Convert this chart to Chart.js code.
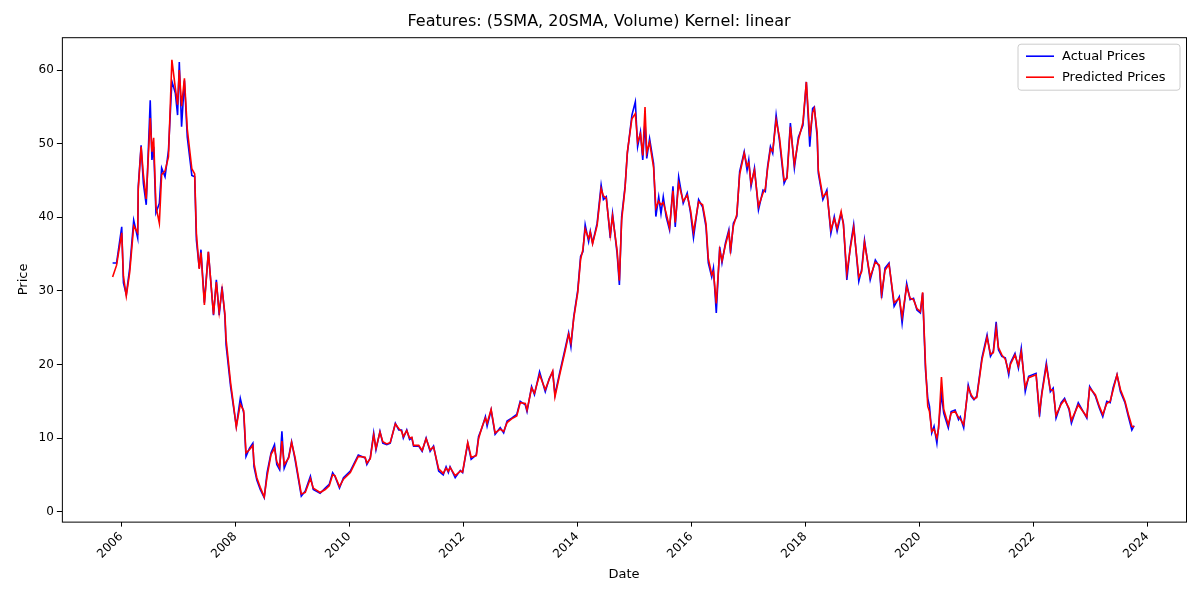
<!DOCTYPE html>
<html>
<head>
<meta charset="utf-8">
<script src="https://cdn.jsdelivr.net/npm/chart.js@4"></script>
<style>
  html, body { margin: 0; padding: 0; background: #fff; }
  #wrap { width: 1200px; height: 600px; }
</style>
</head>
<body>
<div id="wrap"><canvas id="chart1"></canvas></div>
<script>
// dates as decimal years
var DATES = [2005.85,2005.92,2006.01,2006.04,2006.09,2006.15,2006.22,2006.29,2006.30,2006.35,2006.39,2006.44,2006.51,2006.54,2006.57,2006.61,2006.67,2006.71,2006.77,2006.83,2006.89,2006.95,2006.99,2007.02,2007.06,2007.11,2007.16,2007.24,2007.29,2007.32,2007.37,2007.40,2007.46,2007.53,2007.62,2007.67,2007.72,2007.77,2007.82,2007.84,2007.92,2007.96,2008.02,2008.09,2008.15,2008.19,2008.25,2008.31,2008.33,2008.38,2008.44,2008.51,2008.56,2008.63,2008.69,2008.73,2008.78,2008.82,2008.86,2008.94,2008.99,2009.05,2009.16,2009.23,2009.32,2009.37,2009.49,2009.58,2009.65,2009.71,2009.75,2009.83,2009.90,2010.02,2010.16,2010.28,2010.31,2010.37,2010.43,2010.47,2010.54,2010.59,2010.66,2010.72,2010.81,2010.87,2010.92,2010.95,2011.01,2011.06,2011.10,2011.13,2011.22,2011.28,2011.35,2011.42,2011.48,2011.57,2011.65,2011.70,2011.74,2011.77,2011.86,2011.95,2011.99,2012.08,2012.14,2012.23,2012.27,2012.33,2012.39,2012.42,2012.49,2012.56,2012.65,2012.71,2012.77,2012.85,2012.94,2013.00,2013.09,2013.12,2013.20,2013.25,2013.34,2013.44,2013.51,2013.57,2013.61,2013.69,2013.79,2013.85,2013.89,2013.94,2014.01,2014.06,2014.10,2014.14,2014.20,2014.23,2014.27,2014.35,2014.42,2014.46,2014.51,2014.58,2014.62,2014.70,2014.74,2014.78,2014.84,2014.88,2014.96,2015.02,2015.06,2015.11,2015.15,2015.19,2015.22,2015.27,2015.34,2015.38,2015.43,2015.47,2015.51,2015.56,2015.62,2015.68,2015.72,2015.78,2015.86,2015.93,2015.99,2016.04,2016.13,2016.20,2016.26,2016.30,2016.36,2016.39,2016.44,2016.50,2016.54,2016.60,2016.66,2016.69,2016.74,2016.80,2016.85,2016.93,2016.98,2017.01,2017.05,2017.11,2017.18,2017.26,2017.30,2017.34,2017.39,2017.43,2017.49,2017.55,2017.63,2017.68,2017.74,2017.81,2017.88,2017.96,2018.02,2018.08,2018.13,2018.16,2018.21,2018.23,2018.31,2018.38,2018.45,2018.51,2018.56,2018.63,2018.67,2018.73,2018.79,2018.85,2018.94,2018.99,2019.04,2019.14,2019.23,2019.30,2019.34,2019.40,2019.47,2019.56,2019.65,2019.70,2019.78,2019.84,2019.90,2019.96,2020.02,2020.06,2020.11,2020.15,2020.18,2020.22,2020.26,2020.31,2020.34,2020.39,2020.43,2020.51,2020.56,2020.63,2020.69,2020.72,2020.78,2020.86,2020.91,2020.96,2021.01,2021.10,2021.19,2021.25,2021.30,2021.35,2021.39,2021.45,2021.51,2021.57,2021.60,2021.68,2021.74,2021.79,2021.86,2021.92,2022.05,2022.11,2022.15,2022.23,2022.30,2022.35,2022.40,2022.49,2022.55,2022.63,2022.67,2022.79,2022.94,2022.99,2023.09,2023.16,2023.22,2023.29,2023.35,2023.40,2023.47,2023.53,2023.61,2023.67,2023.73,2023.77];

var ACTUAL = [33.8,33.8,38.7,31.1,29.5,33.1,39.6,37.2,44.2,49.8,44.6,41.7,55.9,47.8,49.6,40.6,41.9,46.7,45.5,49.1,58.5,56.9,53.9,61.1,52.3,58.6,50.9,45.7,45.5,36.9,33.1,35.6,28.4,35.3,26.7,31.5,26.7,30.6,26.5,22.7,17.0,14.8,11.6,15.4,13.4,7.5,8.6,9.3,6.1,4.3,3.0,1.9,5.3,8.0,9.1,6.4,5.7,10.9,5.9,7.5,9.5,7.1,2.1,2.8,4.8,3.0,2.5,3.2,3.7,5.3,4.8,3.2,4.6,5.5,7.7,7.3,6.4,7.3,10.7,8.4,10.9,9.3,9.1,9.3,12.0,11.1,11.1,10.0,11.1,9.8,10.0,8.9,8.9,8.2,10.0,8.2,8.9,5.5,5.0,6.1,5.3,6.1,4.6,5.6,5.3,9.3,7.1,7.7,10.2,11.4,12.9,11.6,13.8,10.5,11.4,10.7,12.3,12.7,13.2,15.0,14.5,13.6,17.0,15.9,19.0,16.3,18.1,19.0,15.9,18.8,22.2,24.3,22.4,26.5,30.1,34.7,35.3,39.0,36.7,38.1,36.5,39.2,44.4,42.4,42.8,37.2,40.5,35.1,30.8,40.1,44.2,48.7,53.9,55.7,49.6,51.6,47.8,53.0,48.0,50.7,47.3,40.1,42.8,40.5,42.8,40.1,38.3,44.2,38.7,45.5,41.9,43.3,40.5,37.2,42.4,41.4,38.7,33.8,31.9,33.1,27.0,36.0,33.8,36.5,38.3,35.1,39.2,40.1,46.2,48.9,46.4,47.8,44.2,46.7,41.0,43.7,43.5,46.9,49.6,48.7,53.9,50.3,44.6,45.5,52.8,46.7,50.9,52.5,58.4,49.6,54.8,55.0,50.9,46.0,42.4,43.7,37.8,40.1,38.1,40.5,39.2,31.5,36.0,39.0,31.3,32.9,36.9,31.5,34.2,33.3,29.0,33.1,33.8,27.9,29.2,25.6,31.0,28.8,29.0,27.4,27.0,29.7,19.3,15.4,14.3,10.7,11.6,9.3,11.6,16.0,13.4,11.4,13.6,13.8,12.5,12.9,11.4,17.2,15.7,15.2,15.7,20.9,24.0,21.1,21.8,25.8,22.0,21.1,20.9,18.6,20.2,21.5,19.5,22.2,16.3,18.4,18.8,12.9,16.1,20.2,16.3,16.8,12.7,14.8,15.4,13.8,12.0,14.8,12.7,17.0,15.7,14.1,12.9,15.0,14.8,16.8,18.6,16.3,14.8,12.9,11.1,11.7];

var PREDICTED = [31.9,33.5,37.9,32.0,29.3,32.5,38.8,37.9,43.8,49.6,45.8,42.5,53.5,48.9,50.8,41.5,39.2,45.8,46.3,48.2,61.4,57.6,55.3,60.0,55.1,58.9,52.0,46.6,45.9,37.8,33.0,35.2,28.1,35.3,26.8,31.2,27.1,30.2,26.9,23.5,17.5,15.2,11.5,14.6,13.7,8.0,8.4,9.0,6.6,4.6,3.3,2.0,4.8,7.8,8.6,6.8,6.0,9.6,6.4,7.3,9.4,7.4,2.4,2.6,4.5,3.2,2.6,3.0,3.5,5.0,4.9,3.4,4.4,5.3,7.5,7.4,6.6,7.2,10.4,8.6,10.8,9.5,9.2,9.4,11.9,11.3,10.9,10.2,11.0,10.0,10.1,9.0,9.0,8.3,9.9,8.4,8.8,5.8,5.2,5.9,5.5,6.0,4.9,5.5,5.4,9.4,7.4,7.6,9.9,11.5,12.7,12.0,13.9,10.7,11.2,10.9,12.1,12.6,13.0,14.8,14.7,13.8,16.8,16.1,18.6,16.6,18.0,19.1,15.6,18.5,21.9,24.1,22.9,26.3,29.8,34.3,35.6,38.4,37.1,38.0,36.4,38.9,43.9,42.9,42.6,37.6,40.2,35.5,31.4,39.6,44.0,48.9,53.4,54.1,50.2,51.3,48.4,55.0,48.8,50.2,46.8,41.3,42.2,41.7,42.0,40.6,38.6,43.6,39.3,44.6,42.2,43.0,40.9,38.0,42.1,41.7,39.1,34.4,32.2,32.6,28.3,35.5,34.1,36.2,38.0,35.6,38.8,40.4,45.8,48.7,47.0,47.4,44.6,46.4,41.5,43.3,43.9,46.6,49.3,49.0,53.2,50.8,45.0,45.3,52.3,47.2,50.5,52.9,58.4,51.0,54.2,54.8,51.5,46.4,42.8,43.4,38.3,39.8,38.5,40.8,39.0,32.4,35.7,38.6,31.9,32.6,36.6,31.9,33.9,33.5,29.6,32.8,33.6,28.4,29.0,26.5,30.6,29.0,28.8,27.6,27.2,29.8,20.0,14.3,13.6,10.9,11.2,10.0,11.3,18.3,13.9,11.8,13.4,13.6,12.8,12.6,11.8,16.9,15.9,15.3,15.5,20.6,23.7,21.4,21.6,24.9,22.3,21.3,20.7,19.0,20.0,21.3,19.8,21.7,16.9,18.2,18.6,13.5,15.9,19.8,16.6,16.5,13.1,14.6,15.2,14.0,12.4,14.5,12.9,16.8,15.9,14.3,13.2,14.7,15.0,16.5,18.6,16.6,15.0,13.2,11.6,11.5];

var X_TICKS = [2006, 2008, 2010, 2012, 2014, 2016, 2018, 2020, 2022, 2024];
var Y_TICKS = [0, 10, 20, 30, 40, 50, 60];

Chart.defaults.font.family = "'DejaVu Sans', sans-serif";
Chart.defaults.color = '#000';

function points(ys) {
	return DATES.map(function (d, i) { return { x: d, y: ys[i] }; });
}

// frame round the plot area plus a matplotlib style legend box
var framePlugin = {
	id: 'frame',
	afterDraw: function (chart) {
		var c = chart.ctx, a = chart.chartArea;
		c.save();
		c.strokeStyle = '#000';
		c.lineWidth = 1;
		c.strokeRect(a.left + 0.5, a.top + 0.5, a.right - a.left, a.bottom - a.top);

		var bx = a.right - 168, by = a.top + 7, bw = 162, bh = 46;
		c.fillStyle = 'rgba(255,255,255,0.8)';
		c.strokeStyle = '#cccccc';
		c.beginPath();
		c.roundRect(bx, by, bw, bh, 3);
		c.fill();
		c.stroke();
		c.font = "13px 'DejaVu Sans'";
		c.textBaseline = 'middle';
		chart.data.datasets.forEach(function (ds, i) {
			var yy = by + 12 + i * 21;
			c.strokeStyle = ds.borderColor;
			c.lineWidth = 1.6;
			c.beginPath();
			c.moveTo(bx + 8, yy);
			c.lineTo(bx + 36, yy);
			c.stroke();
			c.fillStyle = '#000';
			c.fillText(ds.label, bx + 44, yy);
		});
		c.restore();
	}
};

var ctx = document.getElementById('chart1').getContext('2d');
new Chart(ctx, {
	type: 'line',
	data: {
		datasets: [{
			label: 'Actual Prices',
			data: points(ACTUAL),
			borderColor: '#0000ff',
			borderWidth: 1.6,
			pointRadius: 0,
			order: 1
		}, {
			label: 'Predicted Prices',
			data: points(PREDICTED),
			borderColor: '#ff0000',
			borderWidth: 1.6,
			pointRadius: 0,
			order: 0
		}]
	},
	options: {
		responsive: true,
		maintainAspectRatio: false,
		animation: false,
		layout: { padding: { left: 12, right: 14, top: 4, bottom: 14 } },
		plugins: {
			legend: { display: false },
			tooltip: { enabled: false },
			title: {
				display: true,
				text: 'Features: (5SMA, 20SMA, Volume) Kernel: linear',
				font: { size: 16, weight: 'normal' },
				padding: { top: 8, bottom: 6 }
			}
		},
		scales: {
			x: {
				type: 'linear',
				min: 2004.96,
				max: 2024.68,
				afterBuildTicks: function (s) { s.ticks = X_TICKS.map(function (v) { return { value: v }; }); },
				ticks: {
					maxRotation: 45, minRotation: 45,
					font: { size: 12 },
					callback: function (v) { return String(v); }
				},
				grid: { display: true, drawOnChartArea: false, drawTicks: true, tickLength: 5, color: '#000' },
				border: { display: false },
				title: { display: true, text: 'Date', font: { size: 13 }, padding: { top: 2 } }
			},
			y: {
				min: -1.36,
				max: 64.48,
				afterBuildTicks: function (s) { s.ticks = Y_TICKS.map(function (v) { return { value: v }; }); },
				ticks: { font: { size: 12 } },
				grid: { display: true, drawOnChartArea: false, drawTicks: true, tickLength: 5, color: '#000' },
				border: { display: false },
				title: { display: true, text: 'Price', font: { size: 13 }, padding: { bottom: 4 } }
			}
		}
	},
	plugins: [framePlugin]
});
</script>
</body>
</html>
